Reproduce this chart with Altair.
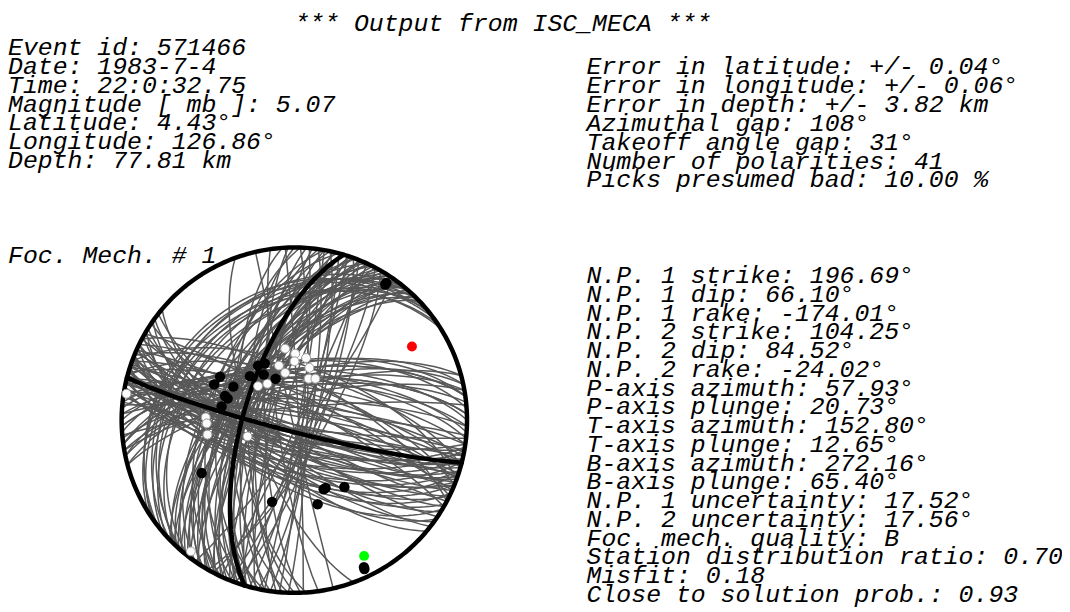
import numpy as np
import pandas as pd
import altair as alt

# ---------------- text content ----------------
title_text = "*** Output from ISC_MECA ***"
left_lines = [
    "Event id: 571466",
    "Date: 1983-7-4",
    "Time: 22:0:32.75",
    "Magnitude [ mb ]: 5.07",
    "Latitude: 4.43°",
    "Longitude: 126.86°",
    "Depth: 77.81 km",
]
right_lines = [
    "Error in latitude: +/- 0.04°",
    "Error in longitude: +/- 0.06°",
    "Error in depth: +/- 3.82 km",
    "Azimuthal gap: 108°",
    "Takeoff angle gap: 31°",
    "Number of polarities: 41",
    "Picks presumed bad: 10.00 %",
]
mech_label = "Foc. Mech. # 1"
mech_lines = [
    "N.P. 1 strike: 196.69°",
    "N.P. 1 dip: 66.10°",
    "N.P. 1 rake: -174.01°",
    "N.P. 2 strike: 104.25°",
    "N.P. 2 dip: 84.52°",
    "N.P. 2 rake: -24.02°",
    "P-axis azimuth: 57.93°",
    "P-axis plunge: 20.73°",
    "T-axis azimuth: 152.80°",
    "T-axis plunge: 12.65°",
    "B-axis azimuth: 272.16°",
    "B-axis plunge: 65.40°",
    "N.P. 1 uncertainty: 17.52°",
    "N.P. 2 uncertainty: 17.56°",
    "Foc. mech. quality: B",
    "Station distribution ratio: 0.70",
    "Misfit: 0.18",
    "Close to solution prob.: 0.93",
]

# ---------------- mechanism data ----------------
best_strike = [196.69, 104.25]
best_dip = [66.10, 84.52]

# acceptable solutions (nodal planes)
# family near N.P. 2, dipping SSW
gray_a1_strike = [96, 98, 100, 101, 102, 103, 104, 105, 106, 107, 108, 109, 110, 111, 112, 113, 114, 116, 118, 120,
                  122, 124, 126, 128, 130, 100, 104, 108, 112, 116, 99, 103, 107, 111, 115, 119, 121, 125, 105, 109]
gray_a1_dip = [86, 80, 84, 76, 88, 82, 78, 86, 80, 74, 84, 88, 78, 82, 72, 86, 80, 76, 84, 78,
               72, 80, 70, 76, 68, 70, 66, 62, 64, 68, 74, 70, 66, 70, 62, 66, 60, 64, 82, 76]
# family near N.P. 2, dipping NNE
gray_a2_strike = [275, 278, 280, 282, 284, 286, 288, 290, 292, 294, 296, 298, 300, 285, 290, 278, 272, 265, 260, 268,
                  255, 258, 262, 255, 258, 260, 262, 264, 266, 268, 270, 272, 274, 276, 262]
gray_a2_dip = [86, 82, 88, 80, 84, 76, 86, 80, 72, 84, 78, 70, 82, 68, 64, 74, 80, 84, 78, 70,
               75, 70, 66, 68, 64, 72, 66, 74, 62, 70, 66, 72, 68, 70, 62]
# family near N.P. 1, dipping WNW
gray_b1_strike = [184, 186, 188, 190, 192, 193, 194, 196, 197, 198, 199, 200, 201, 202, 204, 205, 206, 208, 210, 211,
                  212, 214, 216, 218, 220, 222, 180, 182, 178, 176, 190, 195, 205, 215, 225,
                  203, 207, 209, 213, 217, 219, 221, 223, 224, 226, 207, 213, 200, 196]
gray_b1_dip = [72, 78, 66, 74, 62, 80, 70, 76, 60, 84, 68, 72, 56, 78, 64, 70, 58, 74, 62, 68,
               54, 72, 60, 66, 56, 62, 68, 60, 76, 64, 54, 50, 48, 50, 58,
               66, 70, 60, 64, 70, 62, 68, 58, 66, 62, 54, 58, 64, 68]
# family near N.P. 1, dipping ESE
gray_b2_strike = [5, 8, 10, 12, 15, 18, 20, 22, 25, 28, 2, 357, 30, 35]
gray_b2_dip = [86, 82, 88, 80, 84, 86, 78, 82, 88, 80, 84, 88, 76, 84]
# shallow north-west dipping planes and a few steep outliers
gray_c_strike = [222, 226, 230, 234, 238, 228, 218, 220, 232, 236, 224, 167, 160, 172]
gray_c_dip = [34, 30, 36, 28, 32, 40, 38, 30, 26, 34, 42, 89, 70, 82]

# polarities, projected (east, north) on the unit equal-area net
comp_east = [0.533, 0.526, -0.430, -0.464, -0.353, -0.401, -0.386, -0.421, -0.257, -0.210, -0.171,
             -0.177, -0.108, -0.536, -0.129, 0.181, 0.170, 0.290, 0.135, 0.403, 0.406]
comp_north = [0.795, 0.785, 0.251, 0.207, 0.194, 0.140, 0.125, 0.079, 0.255, 0.316, 0.328,
              0.264, 0.240, -0.306, -0.473, -0.393, -0.400, -0.387, -0.487, -0.851, -0.862]
dil_east = [-0.053, 0.005, 0.001, 0.068, 0.087, -0.089, -0.053, 0.083, 0.122, -0.156, -0.210,
            -0.972, -0.513, -0.507, -0.503, -0.271, -0.599]
dil_north = [0.414, 0.385, 0.341, 0.360, 0.303, 0.316, 0.274, 0.240, 0.240, 0.211, 0.197,
             0.153, 0.016, -0.019, -0.084, -0.094, -0.760]

p_axis = (57.93, 20.73)
t_axis = (152.80, 12.65)


def great_circle(strike, dip, n=121):
    d = np.radians(min(dip, 89.9))
    t = np.linspace(0, np.pi, n)
    trend = np.radians(strike) + t
    plunge = np.arctan(np.tan(d) * np.sin(t))
    r = np.sqrt(2) * np.sin((np.pi / 2 - plunge) / 2)
    return r * np.sin(trend), r * np.cos(trend)


def planes_frame(strikes, dips):
    rows = []
    for i, (s, d) in enumerate(zip(strikes, dips)):
        x, y = great_circle(s, d)
        for k in range(len(x)):
            rows.append({"id": i, "k": k, "x": x[k], "y": y[k]})
    return pd.DataFrame(rows)


def axis_point(az, pl):
    r = np.sqrt(2) * np.sin(np.radians(90 - pl) / 2)
    return r * np.sin(np.radians(az)), r * np.cos(np.radians(az))


all_strike = gray_a1_strike + gray_a2_strike + gray_b1_strike + gray_b2_strike + gray_c_strike
all_dip = gray_a1_dip + gray_a2_dip + gray_b1_dip + gray_b2_dip + gray_c_dip
gray_df = planes_frame(all_strike, all_dip)
best_df = planes_frame(best_strike, best_dip)
ang = np.radians(np.arange(0, 361, 1))
circ_df = pd.DataFrame({"k": np.arange(len(ang)), "x": np.sin(ang), "y": np.cos(ang)})
comp_df = pd.DataFrame({"x": comp_east, "y": comp_north})
dil_df = pd.DataFrame({"x": dil_east, "y": dil_north})
px, py = axis_point(*p_axis)
tx, ty = axis_point(*t_axis)
p_df = pd.DataFrame({"x": [px], "y": [py]})
t_df = pd.DataFrame({"x": [tx], "y": [ty]})

W, H = 1062, 604
xs = alt.Scale(domain=[-1.65805, 4.44540], nice=False, zero=False)
ys = alt.Scale(domain=[-1.09770, 2.37356], nice=False, zero=False)
X = alt.X("x:Q", scale=xs, axis=None)
Y = alt.Y("y:Q", scale=ys, axis=None)

gray = alt.Chart(gray_df).mark_line(color="#585858", strokeWidth=1.5).encode(
    x=X, y=Y, detail="id:N", order="k:Q")
best = alt.Chart(best_df).mark_line(color="black", strokeWidth=4.5, strokeCap="round").encode(
    x=X, y=Y, detail="id:N", order="k:Q")
circ = alt.Chart(circ_df).mark_line(color="black", strokeWidth=4.5).encode(x=X, y=Y, order="k:Q")
dil = alt.Chart(dil_df).mark_circle(size=81, fill="#fbfbfb", stroke="#9a9a9a", strokeWidth=1,
                                    opacity=1).encode(x=X, y=Y)
comp = alt.Chart(comp_df).mark_circle(size=110, color="black", opacity=1).encode(x=X, y=Y)
pdot = alt.Chart(p_df).mark_circle(size=100, color="#ff0000", opacity=1).encode(x=X, y=Y)
tdot = alt.Chart(t_df).mark_circle(size=100, color="#00ff00", opacity=1).encode(x=X, y=Y)

FONT = dict(font="Liberation Mono", fontStyle="italic", fontSize=25, color="black",
            baseline="alphabetic")


def text_layers(lines, x, y0, step, align="left"):
    out = []
    for i, line in enumerate(lines):
        out.append(alt.Chart(pd.DataFrame({"t": [line]})).mark_text(align=align, **FONT).encode(
            text="t:N", x=alt.value(x), y=alt.value(y0 + step * i)))
    return out


texts = []
texts += text_layers([title_text], 498.5, 21, 19, align="center")
texts += text_layers(left_lines, 0, 45, 19)
texts += text_layers(right_lines, 583, 64.5, 19)
texts += text_layers([mech_label], 0, 255, 19)
texts += text_layers(mech_lines, 583, 275, 18.88)

chart = alt.layer(gray, best, circ, dil, comp, pdot, tdot, *texts).properties(
    width=W, height=H, padding=0, background="white",
    autosize=alt.AutoSizeParams(type="none"),
).configure_view(stroke=None)

chart.save("out.html", embed_options={"renderer": "svg", "actions": False})
